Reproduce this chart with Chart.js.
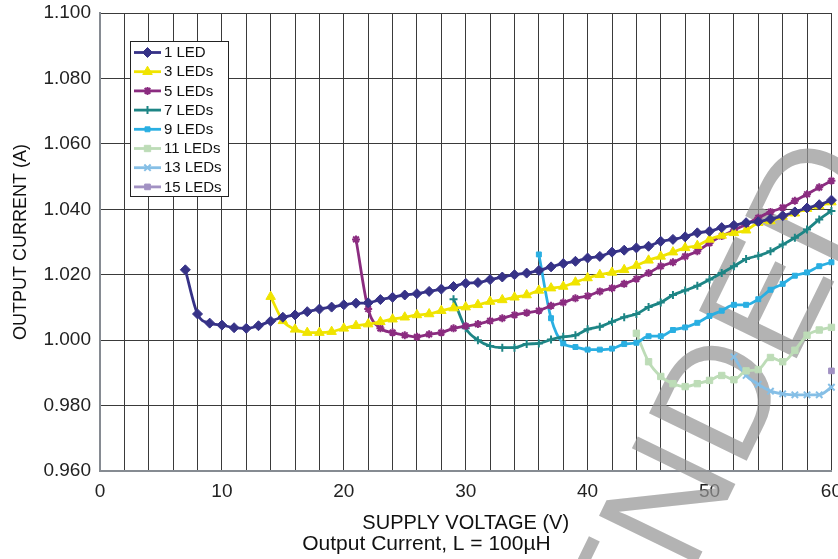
<!DOCTYPE html>
<html>
<head>
<meta charset="utf-8">
<title>Output Current vs Supply Voltage</title>
<script src="https://cdn.jsdelivr.net/npm/chart.js@4.4.1/dist/chart.umd.min.js"></script>
<style>
  html, body { margin: 0; padding: 0; background: #fff; overflow: hidden; }
</style>
</head>
<body>
<canvas id="myChart" width="853" height="559"></canvas>
<script>
// supply voltage steps (V), every series ends at 60 V
var supplyV = [7, 8, 9, 10, 11, 12, 13, 14, 15, 16, 17, 18, 19, 20, 21, 22, 23, 24, 25, 26,
  27, 28, 29, 30, 31, 32, 33, 34, 35, 36, 37, 38, 39, 40, 41, 42, 43, 44, 45, 46,
  47, 48, 49, 50, 51, 52, 53, 54, 55, 56, 57, 58, 59, 60];

// output current (A)
var led1 = [1.0215, 1.0080, 1.0052, 1.0046, 1.0038, 1.0036, 1.0044, 1.0058, 1.0070, 1.0077,
  1.0087, 1.0095, 1.0101, 1.0108, 1.0113, 1.0114, 1.0124, 1.0131, 1.0138, 1.0142,
  1.0149, 1.0156, 1.0164, 1.0174, 1.0176, 1.0185, 1.0193, 1.0200, 1.0205, 1.0213,
  1.0224, 1.0234, 1.0241, 1.0251, 1.0256, 1.0269, 1.0275, 1.0282, 1.0287, 1.0302,
  1.0308, 1.0316, 1.0328, 1.0333, 1.0344, 1.0351, 1.0359, 1.0362, 1.0370, 1.0380,
  1.0392, 1.0404, 1.0414, 1.0428];
var led3 = [1.0133, 1.0059, 1.0033, 1.0023, 1.0023, 1.0026, 1.0036, 1.0044, 1.0049, 1.0056,
  1.0064, 1.0070, 1.0077, 1.0080, 1.0090, 1.0098, 1.0101, 1.0108, 1.0118, 1.0123,
  1.0131, 1.0138, 1.0152, 1.0159, 1.0164, 1.0177, 1.0190, 1.0200, 1.0207, 1.0215,
  1.0228, 1.0244, 1.0256, 1.0269, 1.0282, 1.0289, 1.0308, 1.0320, 1.0328, 1.0336,
  1.0359, 1.0364, 1.0378, 1.0388, 1.0402, 1.0410, 1.0422];
var led5 = [1.0308, 1.0095, 1.0036, 1.0023, 1.0015, 1.0010, 1.0018, 1.0023, 1.0036, 1.0043,
  1.0049, 1.0059, 1.0067, 1.0077, 1.0084, 1.0090, 1.0105, 1.0115, 1.0128, 1.0135,
  1.0149, 1.0159, 1.0172, 1.0187, 1.0205, 1.0226, 1.0238, 1.0256, 1.0272, 1.0297,
  1.0318, 1.0336, 1.0354, 1.0374, 1.0392, 1.0405, 1.0426, 1.0446, 1.0467, 1.0487];
var led7 = [1.0125, 1.0036, 1.0000, 0.9982, 0.9977, 0.9977, 0.9988, 0.9990, 1.0002, 1.0010,
  1.0015, 1.0033, 1.0041, 1.0056, 1.0070, 1.0080, 1.0101, 1.0115, 1.0138, 1.0152,
  1.0166, 1.0185, 1.0205, 1.0226, 1.0248, 1.0258, 1.0272, 1.0292, 1.0313, 1.0338,
  1.0369, 1.0395];
var led9 = [1.0262, 1.0067, 0.9990, 0.9979, 0.9971, 0.9971, 0.9974, 0.9988, 0.9992, 1.0012,
  1.0012, 1.0031, 1.0039, 1.0053, 1.0074, 1.0090, 1.0108, 1.0108, 1.0125, 1.0154,
  1.0172, 1.0197, 1.0207, 1.0226, 1.0238];
var led11 = [1.0021, 0.9934, 0.9889, 0.9867, 0.9858, 0.9867, 0.9877, 0.9892, 0.9879, 0.9906,
  0.9910, 0.9947, 0.9934, 0.9969, 1.0015, 1.0031, 1.0039];
var led13 = [0.9949, 0.9892, 0.9865, 0.9844, 0.9836, 0.9833, 0.9833, 0.9833, 0.9856];
var led15 = [0.9906];

var seriesNames = ['1 LED', '3 LEDs', '5 LEDs', '7 LEDs', '9 LEDs', '11 LEDs', '13 LEDs', '15 LEDs'];
var seriesValues = [led1, led3, led5, led7, led9, led11, led13, led15];
var seriesColors = ['#363287', '#f0e400', '#8b2c80', '#1d8585', '#2aafe2', '#bddcb7', '#86bfe6', '#a291c3'];
var seriesMarkers = ['rectRot', 'triangle', 'star', 'cross', 'rect', 'rect', 'crossRot', 'rect'];
var markerSizes = [5, 5.5, 4, 4, 3.5, 4.5, 4.5, 4];

var yTicks = [0.96, 0.98, 1.00, 1.02, 1.04, 1.06, 1.08, 1.10];
var xLabels = [0, 10, 20, 30, 40, 50, 60];

var watermarkText = 'RECOMMENDED';

Chart.defaults.font.family = 'Arial, "Liberation Sans", sans-serif';
Chart.defaults.color = '#222';

// pair each series with the tail of the voltage list
function toPoints(values) {
  var offset = supplyV.length - values.length;
  return values.map(function (v, i) { return { x: supplyV[offset + i], y: v }; });
}

var datasets = seriesValues.map(function (vals, k) {
  return {
    label: seriesNames[k],
    data: toPoints(vals),
    showLine: true,
    borderColor: seriesColors[k],
    backgroundColor: seriesColors[k],
    borderWidth: 2.8,
    pointStyle: seriesMarkers[k],
    pointRadius: markerSizes[k],
    pointBorderWidth: (seriesMarkers[k] == 'star' || seriesMarkers[k].indexOf('cross') == 0) ? 2 : 1,
    cubicInterpolationMode: 'monotone',
    clip: 8
  };
});

// big grey diagonal stamp behind the curves
var stamp = {
  id: 'stamp',
  beforeDatasetsDraw: function (chart) {
    var ctx = chart.ctx;
    ctx.save();
    ctx.font = '158px Arial, "Liberation Sans", sans-serif';
    ctx.fillStyle = 'rgba(150,150,150,0.72)';
    ctx.textBaseline = 'alphabetic';
    ctx.translate(691, 575);
    ctx.rotate(-64 * Math.PI / 180);
    ctx.fillText(watermarkText, -ctx.measureText('RECOMME').width, 0);
    ctx.restore();
  }
};

// boxed legend with a short line + marker like the original
var boxLegend = {
  id: 'boxLegend',
  afterDatasetsDraw: function (chart) {
    var ctx = chart.ctx;
    var left = 130.5, top = 41.5, w = 98, h = 155, rowH = 19.2;
    ctx.save();
    ctx.fillStyle = '#fff';
    ctx.fillRect(left, top, w, h);
    ctx.strokeStyle = '#222';
    ctx.lineWidth = 1;
    ctx.strokeRect(left, top, w, h);
    ctx.font = '15px Arial, "Liberation Sans", sans-serif';
    ctx.textBaseline = 'middle';
    for (var k = 0; k < seriesNames.length; k++) {
      var y = top + 11 + k * rowH;
      ctx.strokeStyle = seriesColors[k];
      ctx.fillStyle = seriesColors[k];
      ctx.lineWidth = 2.8;
      ctx.beginPath();
      ctx.moveTo(134, y);
      ctx.lineTo(161, y);
      ctx.stroke();
      ctx.lineWidth = datasets[k].pointBorderWidth;
      Chart.helpers.drawPoint(ctx, { pointStyle: seriesMarkers[k], radius: markerSizes[k], rotation: 0, borderWidth: datasets[k].pointBorderWidth }, 147.5, y);
      ctx.fillStyle = '#111';
      ctx.fillText(seriesNames[k], 164, y + 0.5);
    }
    ctx.restore();
  }
};

var ctx = document.getElementById('myChart').getContext('2d');
var myChart = new Chart(ctx, {
  type: 'scatter',
  data: { datasets: datasets },
  plugins: [stamp, boxLegend],
  options: {
    responsive: false,
    animation: false,
    layout: { padding: { top: 13, right: 0, bottom: 0, left: 0 } },
    plugins: {
      legend: { display: false },
      tooltip: { enabled: false },
      title: {
        display: true,
        position: 'bottom',
        text: 'Output Current, L = 100\u00b5H',
        font: { size: 21, weight: 'normal', lineHeight: 1 },
        color: '#111',
        padding: { top: 0, bottom: 4 }
      }
    },
    scales: {
      x: {
        type: 'linear',
        min: 0,
        max: 60,
        afterFit: function (scale) { scale.height = 63; },
        ticks: {
          stepSize: 2,
          autoSkip: false,
          maxRotation: 0,
          padding: 11,
          font: { size: 19, lineHeight: 1 },
          color: '#222',
          callback: function (v) { return xLabels.indexOf(v) >= 0 ? String(v) : ''; }
        },
        grid: { color: '#3a3a3a', lineWidth: 1, drawTicks: false },
        border: { color: '#868b92', width: 2 },
        title: {
          display: true,
          text: 'SUPPLY VOLTAGE (V)',
          font: { size: 20, lineHeight: 1 },
          color: '#111',
          padding: { top: 0, bottom: 1 }
        }
      },
      y: {
        min: 0.96,
        max: 1.10,
        afterFit: function (scale) {
          scale.width = 100;
          scale.paddingTop = 0;
          scale.paddingBottom = 0;
        },
        afterBuildTicks: function (scale) {
          scale.ticks = yTicks.map(function (v) { return { value: v }; });
        },
        ticks: {
          padding: 9,
          font: { size: 19, lineHeight: 1 },
          color: '#222',
          callback: function (v) { return Number(v).toFixed(3); }
        },
        grid: { color: '#3a3a3a', lineWidth: 1, drawTicks: false },
        border: { color: '#868b92', width: 2 },
        title: {
          display: true,
          text: 'OUTPUT CURRENT (A)',
          font: { size: 18, lineHeight: 1.1 },
          color: '#111',
          padding: { top: 11, bottom: 0 }
        }
      }
    }
  }
});
</script>
</body>
</html>
